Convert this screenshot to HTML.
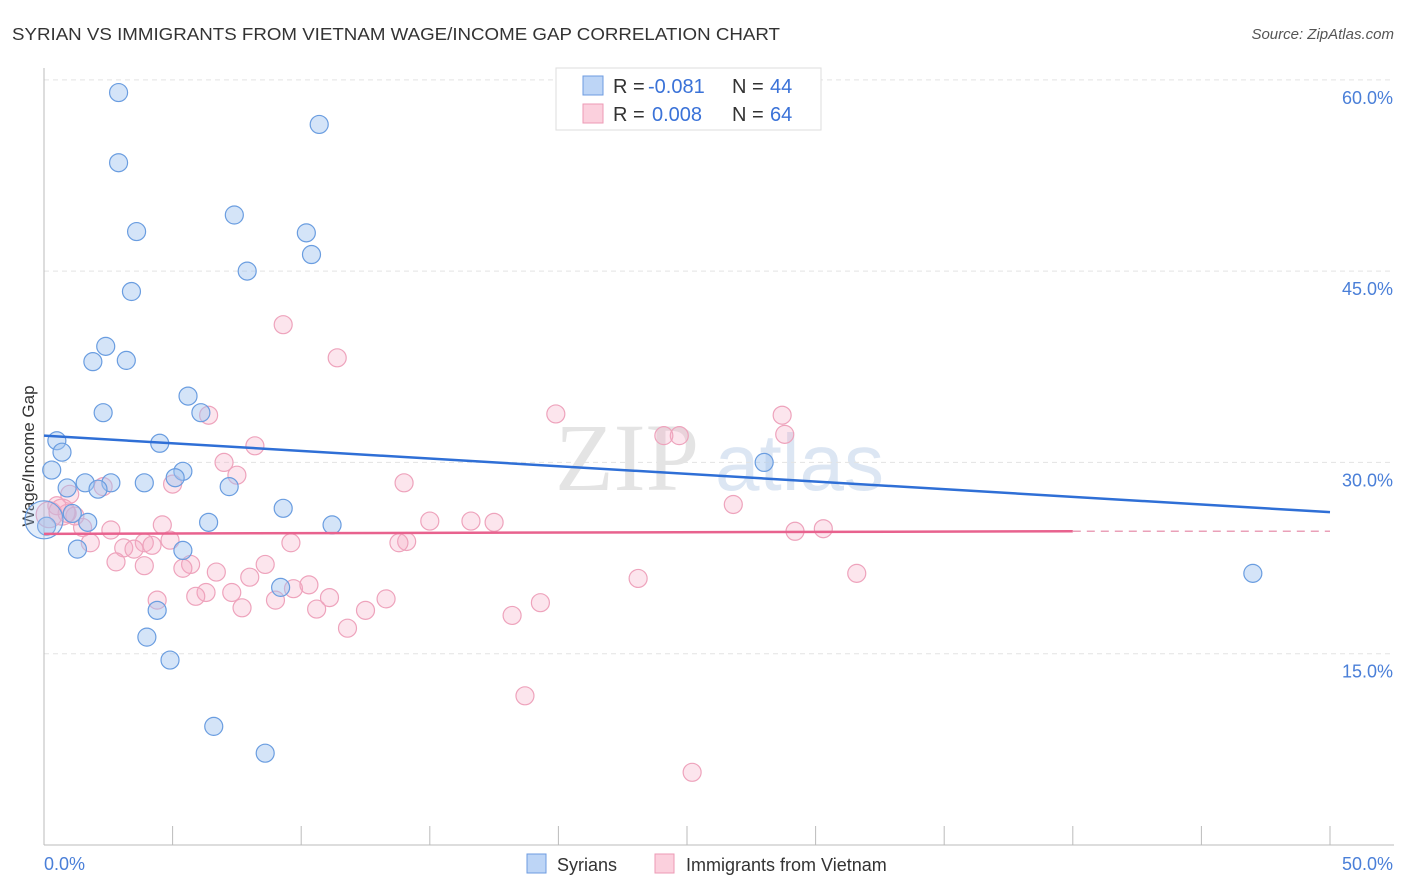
<!DOCTYPE html>
<html><head><meta charset="utf-8"><style>
body{margin:0;background:#fff;font-family:"Liberation Sans",sans-serif;}
svg{display:block}
</style></head><body>
<svg id="c" width="1406" height="892"></svg>
<script>
const blueX=[2.9,10.7,2.9,7.4,3.6,10.2,10.4,7.9,3.4,2.4,1.9,3.2,5.6,2.3,6.1,0.5,4.5,0.7,0.3,5.4,5.1,1.6,0.9,2.6,3.9,2.1,7.2,9.3,1.1,1.7,6.4,11.2,0.1,1.3,5.4,9.2,4.4,4.0,4.9,6.6,8.6,28.0,47.0,0.0];
const blueY=[59.0,56.5,53.5,49.4,48.1,48.0,46.3,45.0,43.4,39.1,37.9,38.0,35.2,33.9,33.9,31.7,31.5,30.8,29.4,29.3,28.8,28.4,28.0,28.4,28.4,27.9,28.1,26.4,26.0,25.3,25.3,25.1,25.0,23.2,23.1,20.2,18.4,16.3,14.5,9.3,7.2,30.0,21.3,25.5];
const pinkX=[9.3,11.4,6.4,19.9,28.7,24.7,24.1,28.8,8.2,7.0,7.5,5.0,2.3,1.0,14.0,0.5,0.9,0.2,26.8,1.2,1.5,2.6,4.6,15.0,16.6,17.5,29.2,30.3,14.1,1.8,3.9,3.1,3.5,4.2,4.9,9.6,13.8,2.8,3.9,5.7,5.4,8.6,6.7,8.0,23.1,31.6,6.3,7.3,5.9,9.7,10.3,11.1,13.3,12.5,4.4,9.0,18.2,19.3,7.7,10.6,11.8,18.7,25.2,0.7];
const pinkY=[40.8,38.2,33.7,33.8,33.7,32.1,32.1,32.2,31.3,30.0,29.0,28.3,28.1,27.5,28.4,26.6,26.0,25.9,26.7,25.8,24.9,24.7,25.1,25.4,25.4,25.3,24.6,24.8,23.8,23.7,23.7,23.3,23.2,23.5,23.9,23.7,23.7,22.2,21.9,22.0,21.7,22.0,21.4,21.0,20.9,21.3,19.8,19.8,19.5,20.1,20.4,19.4,19.3,18.4,19.2,19.2,18.0,19.0,18.6,18.5,17.0,11.7,5.7,26.1];
const yTicks=[15,30,45,60];
const NS="http://www.w3.org/2000/svg";
const svg=document.getElementById('c');
const X=v=>44+v*25.72, Y=v=>845-v*12.753;
function mk(t,a,p){const e=document.createElementNS(NS,t);for(const k in a)e.setAttribute(k,a[k]);(p||svg).appendChild(e);return e;}
let t;
t=mk('text',{x:12,y:40,'font-size':17.5,fill:'#333',textLength:768,lengthAdjust:'spacingAndGlyphs'});t.textContent='SYRIAN VS IMMIGRANTS FROM VIETNAM WAGE/INCOME GAP CORRELATION CHART';


t=mk('text',{x:1394,y:39,'font-size':15,fill:'#555','text-anchor':'end','font-style':'italic'});t.textContent='Source: ZipAtlas.com';


t=mk('text',{x:555,y:490,'font-size':96,fill:'#e4e4e4','font-family':'Liberation Serif'});t.textContent='ZIP';


t=mk('text',{x:715,y:490,'font-size':80,fill:'#dce6f3'});t.textContent='atlas';


yTicks.forEach(v=>{
 let l=mk('line',{x1:44,x2:1394,y1:Y(v),y2:Y(v),stroke:'#e3e3e3','stroke-dasharray':'5,4'});
 
 
 let tt=mk('text',{x:1393,y:Y(v)+24,'font-size':18,fill:'#4a7fd8','text-anchor':'end'});tt.textContent=v.toFixed(1)+'%';
 
 
});
let ax=mk('line',{x1:44,x2:44,y1:68,y2:845,stroke:'#bbb'});


ax=mk('line',{x1:44,x2:1394,y1:845,y2:845,stroke:'#bbb'});


for(let i=0;i<=10;i++){let l=mk('line',{x1:X(i*5),x2:X(i*5),y1:826,y2:845,stroke:'#bbb'});
 
 }
t=mk('text',{x:44,y:870,'font-size':18,fill:'#4a7fd8'});t.textContent='0.0%';


t=mk('text',{x:1393,y:870,'font-size':18,fill:'#4a7fd8','text-anchor':'end'});t.textContent='50.0%';


t=mk('text',{x:34,y:456,'font-size':17,fill:'#333','text-anchor':'middle',transform:'rotate(-90 34 456)'});t.textContent='Wage/Income Gap';


pinkX.forEach((v,i)=>{let c=mk('circle',{cx:X(v),cy:Y(pinkY[i]),r:i==17||i==63?13:9,fill:'rgba(246,170,195,0.3)',stroke:'#eea3bc','stroke-width':1.2});
 
 });
blueX.forEach((v,i)=>{let c=mk('circle',{cx:X(v),cy:Y(blueY[i]),r:i==43?19:9,fill:i==43?'rgba(160,195,240,0.3)':'rgba(160,195,240,0.45)',stroke:'#6a9de0','stroke-width':1.2});
 
 });
let tl=mk('line',{x1:X(0),y1:Y(32.1),x2:X(50),y2:Y(26.1),stroke:'#2f6fd6','stroke-width':2.5});


tl=mk('line',{x1:X(0),y1:Y(24.4),x2:X(40),y2:Y(24.6),stroke:'#e8628e','stroke-width':2.5});


tl=mk('line',{x1:X(40),y1:Y(24.6),x2:X(50),y2:Y(24.6),stroke:'#eaa0b8','stroke-width':1.5,'stroke-dasharray':'8,6'});


let g=mk('g',{});


mk('rect',{x:556,y:68,width:265,height:62,fill:'#fff',stroke:'#ddd'},g);
mk('rect',{x:583,y:76,width:20,height:19,fill:'#bdd5f6',stroke:'#6d9be0'},g);
mk('rect',{x:583,y:104,width:20,height:19,fill:'#fbd0dd',stroke:'#ec9ab5'},g);
[[93,'-0.081','44',648],[121,'0.008','64',652]].forEach(r=>{
 let a=mk('text',{x:613,y:r[0],'font-size':20,fill:'#333'},g);a.textContent='R =';
 let a2=mk('text',{x:r[3],y:r[0],'font-size':20,fill:'#3a72d8'},g);a2.textContent=r[1];
 let b=mk('text',{x:732,y:r[0],'font-size':20,fill:'#333'},g);b.textContent='N =';
 let b2=mk('text',{x:770,y:r[0],'font-size':20,fill:'#3a72d8'},g);b2.textContent=r[2];
});
let g2=mk('g',{});


mk('rect',{x:527,y:854,width:19,height:19,fill:'#bdd5f6',stroke:'#6d9be0'},g2);
t=mk('text',{x:557,y:871,'font-size':18,fill:'#333'},g2);t.textContent='Syrians';
mk('rect',{x:655,y:854,width:19,height:19,fill:'#fbd0dd',stroke:'#ec9ab5'},g2);
t=mk('text',{x:686,y:871,'font-size':18,fill:'#333'},g2);t.textContent='Immigrants from Vietnam';
</script>
</body></html>
